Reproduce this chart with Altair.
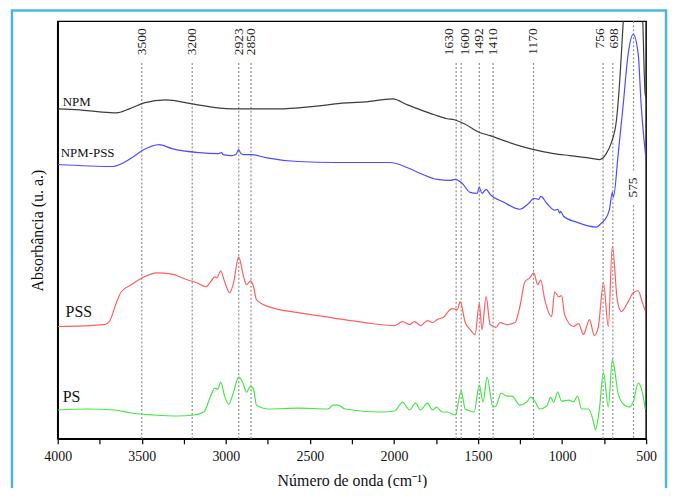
import altair as alt
import pandas as pd

FONT = "Liberation Serif"

series_names = ["NPM", "NPM-PSS", "PSS", "PS"]
series_colors = ["#3c3c3c", "#4d4dff", "#ff5f5f", "#45e845"]

npm_wn = [4000, 3870, 3752, 3651, 3574, 3486, 3356, 3202, 2965, 2670, 2569, 2392, 2351, 2173, 2008,
          1919, 1842, 1759, 1683, 1641, 1582, 1487, 1428, 1346, 1192, 1050, 955, 855, 778, 737,
          707, 677, 660, 636, 607, 577, 547, 520, 506, 500]
npm_ab = [332, 331, 329, 328, 332, 338, 341, 337, 332, 332, 333, 336, 337, 339, 342,
          336, 331, 326, 322, 321, 317, 308, 305, 300, 292, 287, 285, 283, 281, 287,
          298, 320, 353, 420, 500, 540, 500, 420, 347, 343]

npmpss_wn = [4000, 3675, 3557, 3497, 3397, 3320, 3161, 3042, 3025, 3015,
             2965, 2940, 2924, 2910, 2894, 2847, 2764, 2569, 2351, 2020, 1937, 1842,
             1742, 1665, 1635, 1594, 1547, 1505, 1493, 1476, 1452, 1428,
             1346, 1251, 1198, 1168, 1139, 1127, 1091, 1044, 1026, 1014,
             1009, 991, 914, 796, 766, 748, 719, 701, 695, 666,
             636, 607, 577, 547, 530, 500]
npmpss_ab = [276, 274, 283, 290, 296, 292, 288, 287, 288, 286,
             285, 286, 291, 287, 286, 286, 283, 279, 278, 278, 274, 267,
             261, 260, 261, 257, 248, 247, 253, 247, 251, 246,
             238, 231, 237, 242, 241, 244, 237, 230, 231, 227,
             229, 224, 218, 213, 217, 220, 230, 248, 243, 287,
             337, 387, 407, 387, 337, 280]

pss_wn = [4000, 3722, 3693, 3651, 3622, 3563, 3497, 3409, 3326, 3231,
          3172, 3119, 3090, 3066, 3054, 3030, 3007, 2977, 2954, 2924,
          2894, 2877, 2853, 2835, 2818, 2747, 2569, 2374, 2173, 1996,
          1949, 1907, 1878, 1842, 1801, 1771, 1742, 1700, 1683, 1653,
          1623, 1606, 1576, 1547, 1517, 1493, 1476, 1452, 1428, 1405,
          1393, 1369, 1328, 1280, 1251, 1221, 1192, 1168, 1145, 1127,
          1103, 1062, 1044, 1020, 1003, 985, 932, 902, 873, 837,
          808, 784, 754, 725, 701, 672, 648, 607, 577, 547,
          524, 506]
pss_ab = [113, 115, 118, 137, 148, 155, 162, 167, 166, 160,
          157, 153, 158, 163, 162, 169, 158, 147, 157, 183,
          163, 155, 159, 153, 140, 133, 127, 122, 117, 114,
          118, 115, 118, 114, 119, 117, 120, 123, 127, 131,
          130, 138, 117, 110, 105, 136, 110, 143, 115, 113,
          112, 117, 115, 117, 133, 158, 162, 167, 155, 160,
          140, 123, 148, 143, 144, 125, 113, 116, 105, 120,
          104, 113, 157, 113, 194, 140, 128, 138, 147, 149,
          138, 129]

ps_wn = [4000, 3823, 3663, 3563, 3427, 3291, 3190, 3131, 3090, 3066,
         3048, 3030, 3007, 2983, 2954, 2924, 2900, 2877, 2853, 2835,
         2818, 2747, 2569, 2392, 2362, 2333, 2291, 2079, 1996, 1949,
         1907, 1872, 1842, 1801, 1771, 1747, 1712, 1683, 1635, 1600,
         1576, 1547, 1523, 1493, 1470, 1446, 1411, 1393, 1363, 1328,
         1298, 1251, 1210, 1186, 1162, 1133, 1091, 1068, 1050, 1026,
         1003, 961, 932, 908, 884, 843, 813, 802, 778, 754,
         725, 701, 666, 630, 601, 577, 547, 518, 506]
ps_ab = [29, 30, 29, 26, 24, 23, 24, 27, 43, 51,
         50, 57, 43, 35, 47, 62, 57, 47, 53, 50,
         34, 30, 31, 30, 34, 34, 30, 27, 28, 37,
         29, 36, 29, 36, 29, 32, 27, 27, 24, 48,
         30, 28, 27, 54, 37, 62, 32, 33, 46, 43,
         43, 34, 37, 42, 38, 30, 33, 42, 37, 47,
         38, 39, 37, 43, 30, 30, 17, 9, 30, 67,
         32, 80, 45, 34, 32, 37, 56, 43, 30]

# series name labels
series_label_wn = [3970, 3982, 3953, 3970]
series_label_ab = [339, 288, 128, 42]
series_label_size = [13, 13, 16, 16]

# band markers
peak_wn = [3500, 3200, 2923, 2850, 1630, 1600, 1492, 1410, 1170, 756, 698, 575]
peak_label_wn = [3500, 3200, 2923, 2850, 1674, 1579, 1492, 1410, 1170, 775, 689, 575]
peak_label_ab = [413, 413, 413, 413, 413, 413, 413, 413, 413, 413, 413, 263]

x_ticks = [4000, 3750, 3500, 3250, 3000, 2750, 2500, 2250, 2000, 1750, 1500, 1250, 1000, 750, 500]

frames = []
for name, wn, ab in [("NPM", npm_wn, npm_ab), ("NPM-PSS", npmpss_wn, npmpss_ab),
                     ("PSS", pss_wn, pss_ab), ("PS", ps_wn, ps_ab)]:
    frames.append(pd.DataFrame({"series": name, "wn": wn, "ab": ab}))
df_lines = pd.concat(frames, ignore_index=True)

rule_rows = []
for w in peak_wn:
    if w == 575:
        rule_rows.append({"wn": w, "ab": 420, "ab2": 270})
        rule_rows.append({"wn": w, "ab": 235, "ab2": 0})
    else:
        rule_rows.append({"wn": w, "ab": 378, "ab2": 0})
df_rules = pd.DataFrame(rule_rows)

df_peak_labels = pd.DataFrame({"wn": peak_label_wn, "ab": peak_label_ab,
                               "label": [str(w) for w in peak_wn]})
df_series_labels = pd.DataFrame({"wn": series_label_wn, "ab": series_label_ab,
                                 "label": series_names, "fs": series_label_size})

x_scale = alt.Scale(domain=[500, 4000], reverse=True, nice=False, zero=False)
y_scale = alt.Scale(domain=[0, 420], nice=False, zero=False)

x_axis = alt.Axis(values=x_ticks, format="d",
                  labelExpr="datum.value % 500 == 0 ? datum.label : ''",
                  title="Número de onda (cm⁻¹)", grid=False, tickSize=5,
                  labelFlush=False, labelOverlap=False,
                  labelPadding=6, titlePadding=9, labelFontSize=14, titleFontSize=16)
y_axis = alt.Axis(labels=False, ticks=False, grid=False, title="Absorbância (u. a.)",
                  titlePadding=12, titleFontSize=16)

X = alt.X("wn:Q", scale=x_scale, axis=x_axis)
Y = alt.Y("ab:Q", scale=y_scale, axis=y_axis)

rules = alt.Chart(df_rules).mark_rule(color="#8f8f8f", strokeDash=[2, 2], strokeWidth=1.2).encode(
    x=X, y=Y, y2="ab2:Q",
)

lines = alt.Chart(df_lines).mark_line(strokeWidth=1.2, clip=True, interpolate="monotone").encode(
    x=X, y=Y,
    color=alt.Color("series:N", scale=alt.Scale(domain=series_names, range=series_colors), legend=None),
)

peak_text = alt.Chart(df_peak_labels).mark_text(angle=270, align="right", baseline="middle",
                                                font=FONT, fontSize=13.5, color="#222222").encode(
    x=X, y=Y, text="label:N",
)

series_text = alt.Chart(df_series_labels).mark_text(align="left", baseline="middle",
                                                    font=FONT, color="#111111").encode(
    x=X, y=Y, text="label:N",
    size=alt.Size("fs:Q", scale=None, legend=None),
)

border = alt.Chart(pd.DataFrame({"k": [0]})).mark_rect(
    fillOpacity=0, stroke="#4db6de", strokeWidth=2.5, clip=False).encode(
    x=alt.value(-46), x2=alt.value(612), y=alt.value(-11), y2=alt.value(480)
)

chart = alt.layer(rules, lines, peak_text, series_text, border).properties(
    width=592, height=420,
    padding={"left": 50, "top": 12, "right": 22, "bottom": 48},
    autosize=alt.AutoSizeParams(type="none"),
    background="white",
).configure_view(
    stroke="#000000", strokeWidth=1.5
).configure_axis(
    domainColor="#000000", domainWidth=1.5, tickColor="#000000", tickWidth=1.2,
    labelFont=FONT, titleFont=FONT, labelColor="#111111", titleColor="#111111",
    titleFontWeight="normal"
)

chart.save("out.html", embed_options={"renderer": "svg", "actions": False})
